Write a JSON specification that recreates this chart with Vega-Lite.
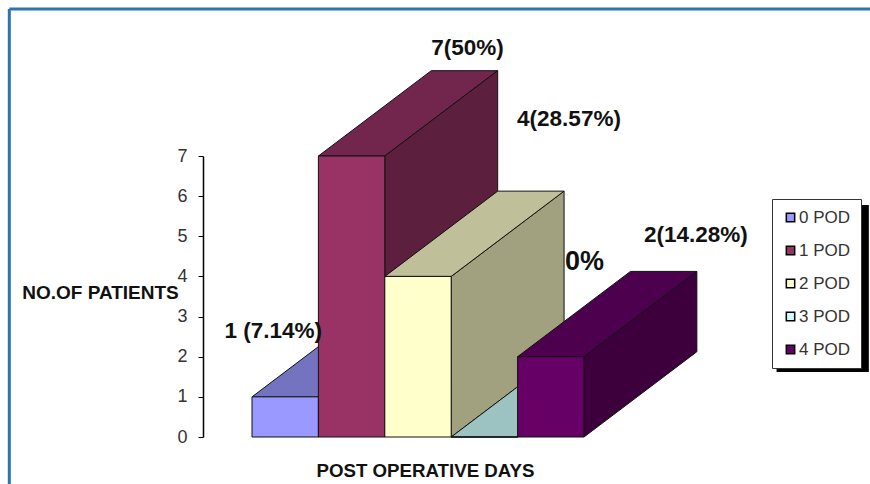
{
"$schema":"https://vega.github.io/schema/vega-lite/v6.json",
"width":494,"height":281,"autosize":{"type":"none"},
"padding":{"left":203,"top":156,"right":173,"bottom":47},
"background":"#ffffff",
"config":{"view":{"stroke":null},"text":{"font":"Liberation Sans"}},
"data":{"values":[
{"day":"0 POD","order":0,"patients":1,"share":"1 (7.14%)"},
{"day":"1 POD","order":1,"patients":7,"share":"7(50%)"},
{"day":"2 POD","order":2,"patients":4,"share":"4(28.57%)"},
{"day":"3 POD","order":3,"patients":0,"share":"0%"},
{"day":"4 POD","order":4,"patients":2,"share":"2(14.28%)"}
]},
"transform":[
{"calculate":"[0,1]","as":"edge"},{"flatten":["edge"]},
{"calculate":"datum.order+1.7*datum.edge","as":"left"},
{"calculate":"datum.left+1","as":"right"},
{"calculate":"datum.order+0.5","as":"centre"},
{"calculate":"2.125*datum.edge","as":"lift"},
{"calculate":"datum.patients+datum.lift","as":"top"}
],
"resolve":{"scale":{"color":"independent"}},
"layer":[
{"data":{"values":[{"frame":"left"}]},"mark":{"type":"rule","color":"#2e74b5","strokeWidth":3},
 "encoding":{"x":{"datum":-3.655,"type":"quantitative","scale":{"domain":[-0.738,6.702],"nice":false,"zero":false},
   "axis":{"title":"POST OPERATIVE DAYS","labels":false,"ticks":false,"domain":false,"grid":false,"titleFont":"Liberation Sans","titleFontWeight":"bold","titleFontSize":18.7,"titleColor":"#111111","titleX":222,"titleY":33,"titleAlign":"center","titleBaseline":"middle"}},
 "y":{"datum":10.66,"type":"quantitative","scale":{"domain":[0,7],"nice":false},
   "axis":{"title":"NO.OF PATIENTS","titleAngle":0,"titleFont":"Liberation Sans","titleFontWeight":"bold","titleFontSize":19,"titleColor":"#111111","titleX":-103,"titleY":136,"titleAlign":"center","titleBaseline":"middle","grid":false,"values":[0,1,2,3,4,5,6,7],"domainColor":"#000000","domainWidth":1.5,"tickColor":"#000000","tickSize":5,"tickWidth":1,"labelFont":"Liberation Sans","labelFontSize":18,"labelColor":"#333333","labelPadding":11}},"y2":{"datum":-1.2}}},
{"data":{"values":[{"frame":"top"}]},"mark":{"type":"rule","color":"#2e74b5","strokeWidth":3},
 "encoding":{"x":{"datum":-3.655,"type":"quantitative"},"x2":{"datum":9.33},
 "y":{"datum":10.66,"type":"quantitative"}}},
{"data":{"values":[{"frame":"shadow"}]},"mark":{"type":"rect","color":"#000000"},
 "encoding":{"x":{"datum":7.9,"type":"quantitative"},"x2":{"datum":9.29},
 "y":{"datum":5.78,"type":"quantitative"},"y2":{"datum":1.62}}},
{"transform":[{"filter":"datum.order<=1"}],"mark":{"type":"area","orient":"horizontal","stroke":"#111111","strokeWidth":1},
 "encoding":{"y":{"field":"top","type":"quantitative"},"x":{"field":"left","type":"quantitative"},"x2":{"field":"right"},"detail":{"field":"day"},
 "color":{"field":"day","type":"nominal","legend":null,"scale":{"domain":["0 POD","1 POD"],"range":["#7373bf","#73264d"]}}}},
{"transform":[{"filter":"datum.order<=3"}],"mark":{"type":"area","stroke":"#111111","strokeWidth":1},
 "encoding":{"x":{"field":"right","type":"quantitative"},"y":{"field":"lift","type":"quantitative"},"y2":{"field":"top"},"detail":{"field":"day"},
 "color":{"field":"day","type":"nominal","legend":null,"scale":{"domain":["0 POD","1 POD","2 POD","3 POD"],"range":["#5c5c99","#5c1f3d","#a1a180","#80a1a1"]}}}},
{"transform":[{"filter":"datum.order>=2"}],"mark":{"type":"area","orient":"horizontal","stroke":"#111111","strokeWidth":1},
 "encoding":{"y":{"field":"top","type":"quantitative"},"x":{"field":"left","type":"quantitative"},"x2":{"field":"right"},"detail":{"field":"day"},
 "color":{"field":"day","type":"nominal","legend":null,"scale":{"domain":["2 POD","3 POD","4 POD"],"range":["#bfbf99","#9cc2c2","#4d004d"]}}}},
{"transform":[{"filter":"datum.order==4"}],"mark":{"type":"area","stroke":"#111111","strokeWidth":1},
 "encoding":{"x":{"field":"right","type":"quantitative"},"y":{"field":"lift","type":"quantitative"},"y2":{"field":"top"},"detail":{"field":"day"},
 "color":{"field":"day","type":"nominal","legend":null,"scale":{"domain":["4 POD"],"range":["#3d003d"]}}}},
{"transform":[{"filter":"datum.edge==0"}],"mark":{"type":"rect","stroke":"#111111","strokeWidth":1},
 "encoding":{"x":{"field":"left","type":"quantitative"},
 "x2":{"field":"right"},
 "y":{"field":"patients","type":"quantitative"},
 "y2":{"datum":0},
 "color":{"field":"day","type":"nominal","scale":{"domain":["0 POD","1 POD","2 POD","3 POD","4 POD"],"range":["#9999ff","#993366","#ffffcc","#ccffff","#660066"]},
   "legend":{"title":null,"orient":"none","legendX":569,"legendY":43,"fillColor":"#ffffff","strokeColor":"#333333","padding":10,"symbolType":"square","symbolSize":70,"symbolStrokeColor":"#000000","symbolStrokeWidth":1.5,"symbolOpacity":1,"labelFont":"Liberation Sans","labelFontSize":17,"labelColor":"#333333","labelOffset":0,"rowPadding":15}}}},
{"transform":[{"filter":"datum.edge==0 && datum.order==0"}],"mark":{"type":"text","fontSize":22.5,"fontWeight":"bold","color":"#111111","font":"Liberation Sans","dx":-12,"dy":-66},"encoding":{"x":{"field":"centre","type":"quantitative"},"y":{"field":"patients","type":"quantitative"},"text":{"field":"share"}}},
{"transform":[{"filter":"datum.edge==0 && datum.order==1"}],"mark":{"type":"text","fontSize":22.5,"fontWeight":"bold","color":"#111111","font":"Liberation Sans","dx":116,"dy":-108},"encoding":{"x":{"field":"centre","type":"quantitative"},"y":{"field":"patients","type":"quantitative"},"text":{"field":"share"}}},
{"transform":[{"filter":"datum.edge==0 && datum.order==2"}],"mark":{"type":"text","fontSize":22.5,"fontWeight":"bold","color":"#111111","font":"Liberation Sans","dx":151,"dy":-157},"encoding":{"x":{"field":"centre","type":"quantitative"},"y":{"field":"patients","type":"quantitative"},"text":{"field":"share"}}},
{"transform":[{"filter":"datum.edge==0 && datum.order==3"}],"mark":{"type":"text","fontSize":27,"fontWeight":"bold","color":"#111111","font":"Liberation Sans","dx":100,"dy":-175},"encoding":{"x":{"field":"centre","type":"quantitative"},"y":{"field":"patients","type":"quantitative"},"text":{"field":"share"}}},
{"transform":[{"filter":"datum.edge==0 && datum.order==4"}],"mark":{"type":"text","fontSize":22.5,"fontWeight":"bold","color":"#111111","font":"Liberation Sans","dx":145,"dy":-122},"encoding":{"x":{"field":"centre","type":"quantitative"},"y":{"field":"patients","type":"quantitative"},"text":{"field":"share"}}}
]
}
